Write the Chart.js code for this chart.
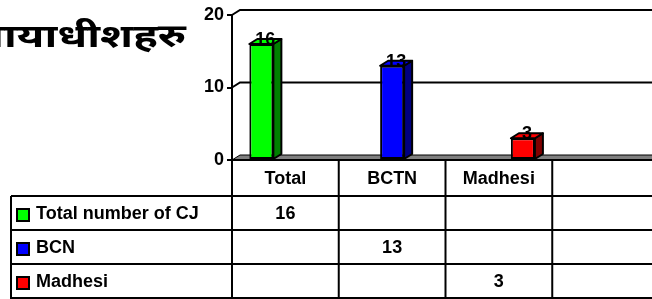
<!DOCTYPE html>
<html>
<head>
<meta charset="utf-8">
<script src="https://cdn.jsdelivr.net/npm/chart.js@4"></script>
<style>
  html, body { margin: 0; padding: 0; overflow: hidden; background: #fff; }
  canvas { display: block; }
</style>
</head>
<body>
<canvas id="chart" width="700" height="299"></canvas>
<script>
// data
const title = 'न्यायाधीशहरु';
const categories = ['Total', 'BCTN', 'Madhesi', ''];
const seriesNames = ['Total number of CJ', 'BCN', 'Madhesi'];
const totalCJ = [16, null, null, null];
const bcn = [null, 13, null, null];
const madhesi = [null, null, 3, null];
const yTicks = [0, 10, 20];

const faceColors = ['#00ff00', '#0000ff', '#ff0000'];
const sideColors = ['#008000', '#000080', '#800000'];
const DX = 8, DY = -5;           // 3d depth
const FONT = 'bold 18px Arial, "Liberation Sans", sans-serif';

// 3d walls, bar sides, value labels and the data table
const deco = {
    id: 'deco',
    beforeDatasetsDraw(chart) {
        const ctx = chart.ctx;
        const { left, bottom } = chart.chartArea;
        const y = chart.scales.y;
        const W = chart.width;
        ctx.save();
        // floor
        ctx.fillStyle = '#7f7f7f';
        ctx.beginPath();
        ctx.moveTo(left, bottom);
        ctx.lineTo(left + DX, bottom + DY);
        ctx.lineTo(W, bottom + DY);
        ctx.lineTo(W, bottom);
        ctx.closePath();
        ctx.fill();
        ctx.strokeStyle = '#000';
        ctx.lineWidth = 1;
        ctx.beginPath();
        ctx.moveTo(left, bottom);
        ctx.lineTo(left + DX, bottom + DY);
        ctx.lineTo(W, bottom + DY);
        ctx.stroke();
        // back wall grid lines
        ctx.lineWidth = 2;
        yTicks.filter(v => v > 0).forEach(v => {
            const py = y.getPixelForValue(v);
            ctx.beginPath();
            ctx.moveTo(left, py);
            ctx.lineTo(left + DX, py + DY);
            ctx.lineTo(W, py + DY);
            ctx.stroke();
        });
        ctx.restore();
    },
    afterDatasetsDraw(chart) {
        const ctx = chart.ctx;
        ctx.save();
        ctx.strokeStyle = '#000';
        ctx.lineWidth = 2;
        ctx.lineJoin = 'round';
        chart.data.datasets.forEach((ds, di) => {
            const meta = chart.getDatasetMeta(di);
            meta.data.forEach((bar, i) => {
                const v = ds.data[i];
                if (v === null) return;
                const l = bar.x - bar.width / 2, r = bar.x + bar.width / 2;
                // side
                ctx.fillStyle = sideColors[di];
                ctx.beginPath();
                ctx.moveTo(r, bar.y);
                ctx.lineTo(r + DX, bar.y + DY);
                ctx.lineTo(r + DX, bar.base + DY);
                ctx.lineTo(r, bar.base);
                ctx.closePath();
                ctx.fill();
                ctx.stroke();
                // top
                ctx.fillStyle = faceColors[di];
                ctx.beginPath();
                ctx.moveTo(l, bar.y);
                ctx.lineTo(l + DX, bar.y + DY);
                ctx.lineTo(r + DX, bar.y + DY);
                ctx.lineTo(r, bar.y);
                ctx.closePath();
                ctx.fill();
                ctx.stroke();
                // value label
                ctx.fillStyle = '#000';
                ctx.font = FONT;
                ctx.textAlign = 'center';
                ctx.textBaseline = 'alphabetic';
                ctx.fillText(String(v), bar.x + DX / 2, bar.y + 1);
            });
        });
        ctx.restore();
    },
    afterDraw(chart) {
        const ctx = chart.ctx;
        const x = chart.scales.x;
        const { left, bottom } = chart.chartArea;
        const W = chart.width;
        const catW = x.getPixelForValue(1) - x.getPixelForValue(0);
        const rows = [196, 230, 264, 298];
        const tableLeft = 11;
        const datasets = [totalCJ, bcn, madhesi];
        ctx.save();
        ctx.strokeStyle = '#000';
        ctx.lineWidth = 2;
        // horizontal lines
        ctx.beginPath();
        ctx.moveTo(left, bottom);
        ctx.lineTo(W, bottom);
        rows.forEach(ry => {
            ctx.moveTo(tableLeft, ry);
            ctx.lineTo(W, ry);
        });
        // vertical lines
        ctx.moveTo(tableLeft, rows[0]);
        ctx.lineTo(tableLeft, rows[3] + 1);
        categories.forEach((c, i) => {
            const cx = x.getPixelForValue(i) - catW / 2;
            ctx.moveTo(cx, bottom);
            ctx.lineTo(cx, rows[3] + 1);
        });
        const lastX = x.getPixelForValue(categories.length - 1) + catW / 2;
        ctx.moveTo(lastX, bottom);
        ctx.lineTo(lastX, rows[3] + 1);
        ctx.stroke();

        ctx.fillStyle = '#000';
        ctx.font = FONT;
        ctx.textBaseline = 'middle';
        ctx.textAlign = 'center';
        categories.forEach((c, i) => {
            ctx.fillText(c, x.getPixelForValue(i), (bottom + rows[0]) / 2 + 1);
        });
        datasets.forEach((d, di) => {
            const cy = (rows[di] + rows[di + 1]) / 2 + 1;
            d.forEach((v, i) => {
                if (v === null) return;
                ctx.textAlign = 'center';
                ctx.fillText(String(v), x.getPixelForValue(i), cy);
            });
            // legend key
            ctx.fillStyle = faceColors[di];
            ctx.fillRect(17, cy - 5, 12, 12);
            ctx.lineWidth = 2;
            ctx.strokeRect(17, cy - 5, 12, 12);
            ctx.fillStyle = '#000';
            ctx.textAlign = 'left';
            ctx.fillText(seriesNames[di], 36, cy);
        });

        // title, wide and clipped at the left edge
        ctx.font = 'bold 32px "Noto Sans", "Noto Sans Devanagari", sans-serif';
        const wFull = ctx.measureText(title).width;
        const wCut = ctx.measureText('न्य').width;
        const sx = 182 / (wFull - wCut);
        ctx.translate(186, 0);
        ctx.scale(sx, 1);
        ctx.textAlign = 'right';
        ctx.textBaseline = 'alphabetic';
        ctx.fillText(title, 0, 47);
        ctx.restore();
    }
};

new Chart(document.getElementById('chart').getContext('2d'), {
    type: 'bar',
    data: {
        labels: categories,
        datasets: [
            { label: seriesNames[0], data: totalCJ, backgroundColor: faceColors[0] },
            { label: seriesNames[1], data: bcn, backgroundColor: faceColors[1] },
            { label: seriesNames[2], data: madhesi, backgroundColor: faceColors[2] }
        ]
    },
    options: {
        responsive: false,
        animation: false,
        datasets: {
            bar: {
                categoryPercentage: 0.675,
                barPercentage: 1,
                borderColor: '#000',
                borderWidth: 2,
                borderSkipped: false
            }
        },
        layout: { padding: { left: 192, right: 41, top: 15, bottom: 139 } },
        plugins: { legend: { display: false }, tooltip: { enabled: false } },
        scales: {
            x: { display: false, grid: { display: false } },
            y: {
                min: 0, max: 20,
                afterFit(s) { s.width = 40; },
                afterBuildTicks(s) { s.ticks = yTicks.map(v => ({ value: v })); },
                ticks: { color: '#000', font: { family: 'Arial, "Liberation Sans", sans-serif', size: 18, weight: 'bold' }, padding: 3 },
                grid: { drawOnChartArea: false, color: '#000', tickLength: 5, lineWidth: 2 },
                border: { color: '#000', width: 2 }
            }
        }
    },
    plugins: [deco]
});
</script>
</body>
</html>
